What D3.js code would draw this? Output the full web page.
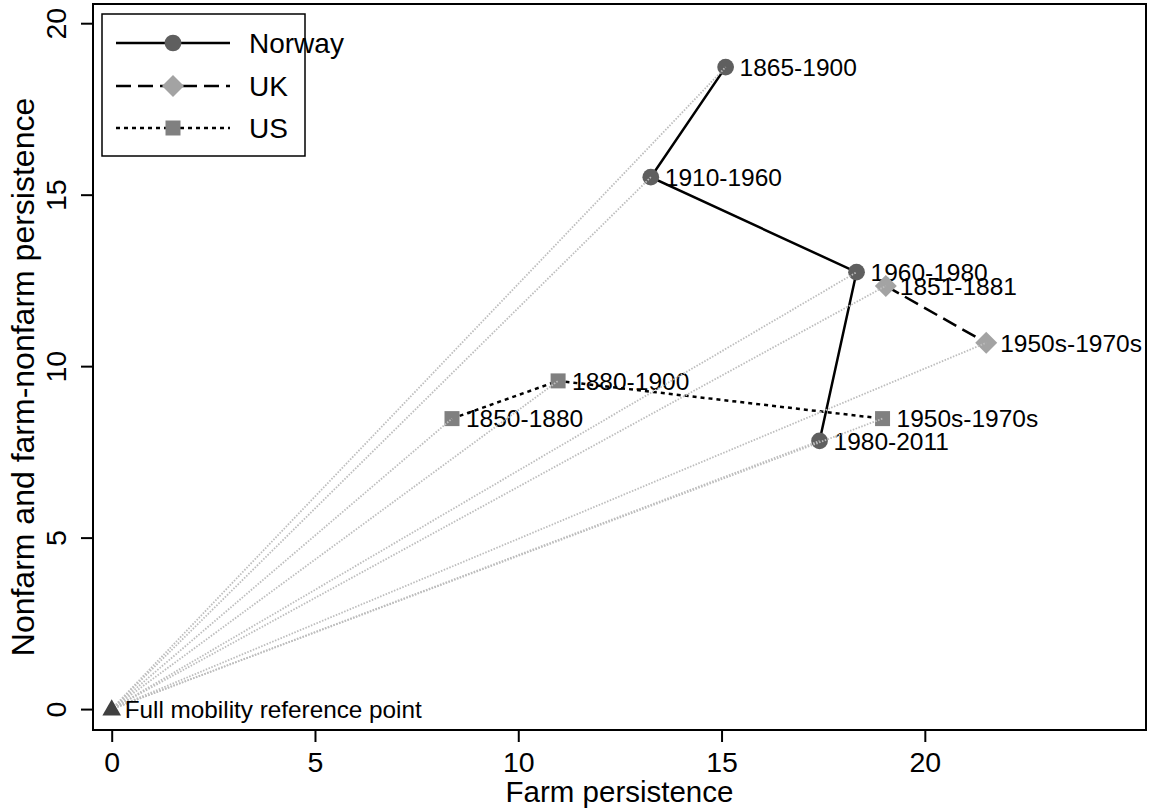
<!DOCTYPE html>
<html>
<head>
<meta charset="utf-8">
<script src="https://cdn.jsdelivr.net/npm/d3@7"></script>
<style>
  html, body { margin: 0; padding: 0; background: #fff; }
  svg { display: block; font-family: "Liberation Sans", Arial, Helvetica, sans-serif; }
</style>
</head>
<body>
<svg id="chart" width="1151" height="812"></svg>
<script>
// ---- data ----
const xTicks = [0, 5, 10, 15, 20];
const yTicks = [0, 5, 10, 15, 20];

const norwayPeriods = ["1865-1900", "1910-1960", "1960-1980", "1980-2011"];
const norwayFarm    = [15.10, 13.26, 18.32, 17.41];
const norwayNonfarm = [18.72, 15.51, 12.74, 7.82];

const ukPeriods = ["1851-1881", "1950s-1970s"];
const ukFarm    = [19.04, 21.51];
const ukNonfarm = [12.34, 10.68];

const usPeriods = ["1850-1880", "1880-1900", "1950s-1970s"];
const usFarm    = [8.37, 10.98, 18.96];
const usNonfarm = [8.47, 9.57, 8.47];

const seriesNames = ["Norway", "UK", "US"];
const refPoint = { farm: 0, nonfarm: 0, label: "Full mobility reference point" };

const xTitle = "Farm persistence";
const yTitle = "Nonfarm and farm-nonfarm persistence";

// ---- build ----
const toPts = (p, f, n) => p.map((d, i) => ({ period: d, farm: f[i], nonfarm: n[i] }));
const series = [
  { name: seriesNames[0], pts: toPts(norwayPeriods, norwayFarm, norwayNonfarm),
    line: "#000", dash: null, symbol: d3.symbolCircle, size: 220, fill: "#5f5f5f" },
  { name: seriesNames[1], pts: toPts(ukPeriods, ukFarm, ukNonfarm),
    line: "#000", dash: "15,7", symbol: "diamond", size: 11, fill: "#a3a3a3" },
  { name: seriesNames[2], pts: toPts(usPeriods, usFarm, usNonfarm),
    line: "#000", dash: "4,4", symbol: d3.symbolSquare, size: 225, fill: "#808080" }
];

const box = { x0: 93, x1: 1146, y0: 4, y1: 730 };
const x = d3.scaleLinear().domain([-0.46, 25.44]).range([box.x0, box.x1]);
const y = d3.scaleLinear().domain([-0.61, 20.56]).range([box.y1, box.y0]);

const svg = d3.select("#chart");

function markerPath(s) {
  if (s.symbol === "diamond") {
    const r = s.size;
    return `M0,${-r}L${r},0L0,${r}L${-r},0Z`;
  }
  return d3.symbol().type(s.symbol).size(s.size)();
}

// plot area background
svg.append("rect").attr("x", box.x0).attr("y", box.y0)
  .attr("width", box.x1 - box.x0).attr("height", box.y1 - box.y0)
  .attr("fill", "#fff");

const line = d3.line().x(d => x(d.farm)).y(d => y(d.nonfarm));

// series
series.forEach(s => {
  const g = svg.append("g");
  g.selectAll("text.lab").data(s.pts).join("text")
    .attr("class", "lab")
    .attr("x", d => x(d.farm) + 14)
    .attr("y", d => y(d.nonfarm))
    .attr("dy", "0.36em")
    .attr("font-size", 24.5)
    .attr("fill", "#000")
    .text(d => d.period);
  g.append("path").datum(s.pts)
    .attr("d", line)
    .attr("fill", "none")
    .attr("stroke", s.line)
    .attr("stroke-width", 2.5)
    .attr("stroke-dasharray", s.dash);
  g.selectAll("path.mk").data(s.pts).join("path")
    .attr("class", "mk")
    .attr("d", markerPath(s))
    .attr("transform", d => `translate(${x(d.farm)},${y(d.nonfarm)})`)
    .attr("fill", s.fill);
});

// reference lines from full-mobility point
const allPts = series.flatMap(s => s.pts);
svg.append("g").selectAll("line").data(allPts).join("line")
  .attr("x1", x(refPoint.farm)).attr("y1", y(refPoint.nonfarm))
  .attr("x2", d => x(d.farm)).attr("y2", d => y(d.nonfarm))
  .attr("stroke", "#bdbdbd")
  .attr("stroke-width", 1.8)
  .attr("stroke-dasharray", "1.5,1.5");

// reference point
svg.append("path")
  .attr("d", d3.symbol().type(d3.symbolTriangle).size(150)())
  .attr("transform", `translate(${x(refPoint.farm)},${y(refPoint.nonfarm) + 1})`)
  .attr("fill", "#404040");
svg.append("text")
  .attr("x", x(refPoint.farm) + 13)
  .attr("y", y(refPoint.nonfarm))
  .attr("dy", "0.36em")
  .attr("font-size", 24.3)
  .text(refPoint.label);

// frame
svg.append("rect").attr("x", box.x0).attr("y", box.y0)
  .attr("width", box.x1 - box.x0).attr("height", box.y1 - box.y0)
  .attr("fill", "none").attr("stroke", "#000").attr("stroke-width", 2);

// axes
const xAxis = svg.append("g").attr("transform", `translate(0,${box.y1})`)
  .call(d3.axisBottom(x).tickValues(xTicks).tickSize(12).tickFormat(d3.format("d")));
xAxis.select(".domain").remove();
xAxis.selectAll(".tick line").attr("stroke", "#000").attr("stroke-width", 2);
xAxis.selectAll(".tick text").attr("y", 42).attr("dy", 0)
  .attr("font-size", 28.5).attr("font-family", null).attr("fill", "#000");

const yAxis = svg.append("g").attr("transform", `translate(${box.x0},0)`)
  .call(d3.axisLeft(y).tickValues(yTicks).tickSize(12).tickFormat(d3.format("d")));
yAxis.select(".domain").remove();
yAxis.selectAll(".tick line").attr("stroke", "#000").attr("stroke-width", 2);
yAxis.selectAll(".tick text")
  .attr("x", null).attr("dy", 0)
  .attr("text-anchor", "middle")
  .attr("transform", "translate(-27,0) rotate(-90)")
  .attr("font-size", 28.5).attr("font-family", null).attr("fill", "#000");

// axis titles
svg.append("text")
  .attr("x", (box.x0 + box.x1) / 2).attr("y", 802)
  .attr("text-anchor", "middle").attr("font-size", 29.5)
  .text(xTitle);
svg.append("text")
  .attr("transform", `translate(34,${(box.y0 + box.y1) / 2 + 10}) rotate(-90)`)
  .attr("text-anchor", "middle").attr("font-size", 32)
  .text(yTitle);

// legend
const lg = svg.append("g");
lg.append("rect").attr("x", 102).attr("y", 14).attr("width", 203).attr("height", 142)
  .attr("fill", "#fff").attr("stroke", "#000").attr("stroke-width", 1.5);
const rows = [43, 86, 128];
series.forEach((s, i) => {
  lg.append("line").attr("x1", 116).attr("x2", 230)
    .attr("y1", rows[i]).attr("y2", rows[i])
    .attr("stroke", s.line).attr("stroke-width", 2.5)
    .attr("stroke-dasharray", s.dash);
  lg.append("path").attr("d", markerPath(s))
    .attr("transform", `translate(173,${rows[i]})`)
    .attr("fill", s.fill);
  lg.append("text").attr("x", 249).attr("y", rows[i]).attr("dy", "0.36em")
    .attr("font-size", 28).text(s.name);
});
</script>
</body>
</html>
